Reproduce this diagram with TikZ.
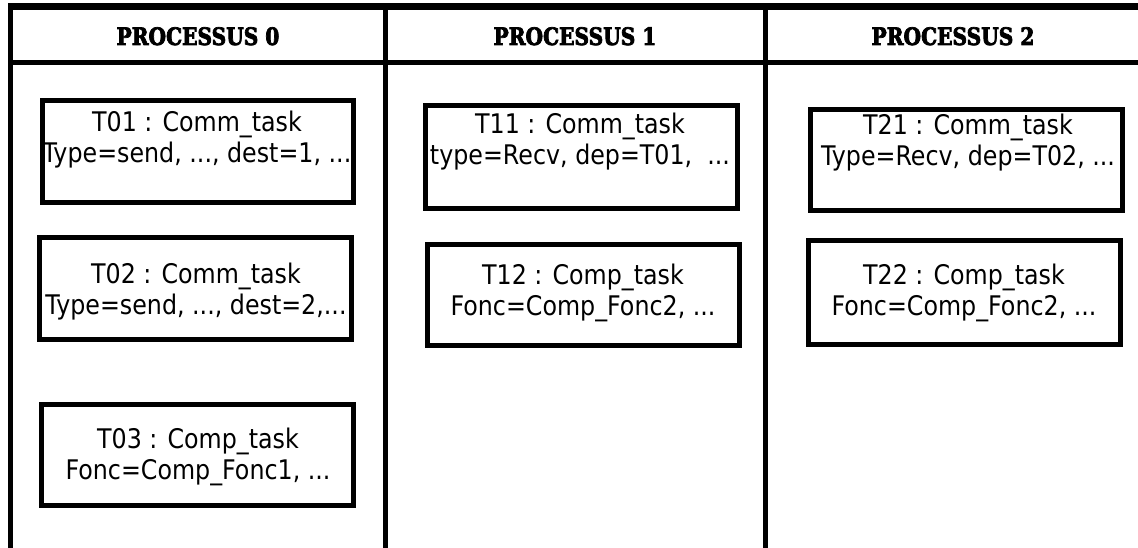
\documentclass[tikz,border=0pt]{standalone}
\usepackage{fontspec}
\newfontfamily\taskfont[FakeStretch=0.88]{DejaVu Sans}
\newfontfamily\hdrfont[FakeStretch=0.84,FakeBold=3]{DejaVu Serif}
\tikzset{
  frameline/.style={line width=5pt, draw=black},
  taskbox/.style={draw=black, line width=5pt, rectangle, inner sep=0pt, fill=none},
  tasktext/.style={inner sep=0pt, align=center, anchor=north, text=black,
     font=\taskfont\fontsize{27}{31}\selectfont},
  hdrtext/.style={inner sep=0pt, anchor=base, font=\hdrfont\bfseries\fontsize{24}{26}\selectfont}
}
\begin{document}
\begin{tikzpicture}[x=1pt,y=-1pt]
\useasboundingbox (0,0) rectangle (1138,548);
\fill[white] (0,0) rectangle (1138,548);
% frame
\draw[frameline, line width=6.5pt] (8,6.5) -- (1140,6.5);
\draw[frameline] (8,62.5) -- (1140,62.5);
\draw[frameline] (10.5,3.5) -- (10.5,550);
\draw[frameline] (385.5,3.5) -- (385.5,550);
\draw[frameline] (765,3.5) -- (765,550);
% headers
\node[hdrtext] (h0) at (198,45) {PROCESSUS 0};
\node[hdrtext] (h1) at (575,45) {PROCESSUS 1};
\node[hdrtext] (h2) at (953,45) {PROCESSUS 2};
% boxes
\node[taskbox, minimum width=311pt, minimum height=102pt] (b01) at (198,151.5) {};
\node[taskbox, minimum width=312pt, minimum height=102pt] (b02) at (195.5,288.5) {};
\node[taskbox, minimum width=312pt, minimum height=101pt] (b03) at (197.5,455) {};
\node[taskbox, minimum width=312pt, minimum height=103pt] (b11) at (581.5,157) {};
\node[taskbox, minimum width=312pt, minimum height=101pt] (b12) at (583.5,295) {};
\node[taskbox, minimum width=312pt, minimum height=101pt] (b21) at (966.5,160) {};
\node[taskbox, minimum width=312pt, minimum height=104pt] (b22) at (964.5,292.5) {};
% texts
\node[tasktext] (t01) at (197,111) {T01 : Comm\_task\\Type=send, ..., dest=1, ...};
\node[tasktext] (t02) at (196,263) {T02 : Comm\_task\\Type=send, ..., dest=2,...};
\node[tasktext] (t03) at (198,428) {T03 : Comp\_task\\Fonc=Comp\_Fonc1, ...};
\node[tasktext] (t11) at (580,113) {T11 : Comm\_task\\type=Recv, dep=T01,~~...};
\node[tasktext] (t12) at (583,264) {T12 : Comp\_task\\Fonc=Comp\_Fonc2, ...};
\node[tasktext] (t21) at (968,114) {T21 : Comm\_task\\Type=Recv, dep=T02, ...};
\node[tasktext] (t22) at (964,264) {T22 : Comp\_task\\Fonc=Comp\_Fonc2, ...};
\end{tikzpicture}
\end{document}
